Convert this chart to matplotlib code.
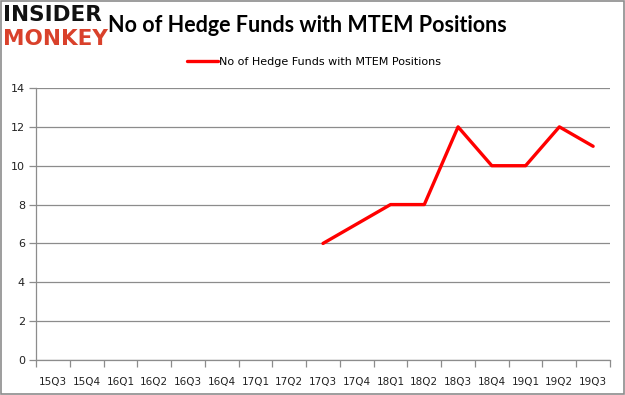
import matplotlib.pyplot as plt
from matplotlib.patches import Rectangle
import numpy as np

quarters = ["15Q3", "15Q4", "16Q1", "16Q2", "16Q3", "16Q4", "17Q1", "17Q2", "17Q3",
            "17Q4", "18Q1", "18Q2", "18Q3", "18Q4", "19Q1", "19Q2", "19Q3"]
# only the last nine quarters have data
fund_counts = [None] * 8 + [6, 7, 8, 8, 12, 10, 10, 12, 11]
y_ticks = [0, 2, 4, 6, 8, 10, 12, 14]
series_name = "No of Hedge Funds with MTEM Positions"

fig = plt.figure(figsize=(6.25, 3.95), dpi=100)
ax = fig.add_axes([36 / 625, 35 / 395, 574 / 625, 272 / 395])

x = np.arange(len(quarters))
y = np.array([np.nan if v is None else v for v in fund_counts], dtype=float)
line, = ax.plot(x, y, color="#ff0000", lw=2.4, solid_capstyle="round")

ax.set_xlim(-0.5, len(quarters) - 0.5)
ax.set_ylim(0, 14)
ax.set_yticks(y_ticks)
ax.set_yticklabels([str(t) for t in y_ticks])
ax.grid(axis="y", color="#8c8c8c", lw=0.9)
ax.set_axisbelow(True)

# category labels centred, tick marks on the boundaries
ax.set_xticks(x)
ax.set_xticklabels(quarters)
ax.set_xticks(np.arange(-0.5, len(quarters)), minor=True)
ax.tick_params(axis="x", which="major", length=0, pad=12, labelsize=7.5,
               labelcolor="#222222")
ax.tick_params(axis="x", which="minor", length=5, color="#8c8c8c", width=0.9)
ax.tick_params(axis="y", length=5, color="#8c8c8c", width=0.9, labelsize=8,
               labelcolor="#222222", pad=3)
for side in ("top", "right"):
    ax.spines[side].set_visible(False)
for side in ("left", "bottom"):
    ax.spines[side].set_color("#8c8c8c")
    ax.spines[side].set_linewidth(0.9)

fig.text(108 / 625, 1 - 25 / 395, "No of Hedge Funds with MTEM Positions",
         fontsize=15.5, fontweight="bold", family="Lato", va="center", ha="left")
fig.legend([line], [series_name], loc="center", bbox_to_anchor=(314 / 625, 1 - 62 / 395),
           frameon=False, handlelength=2.8, handletextpad=0.1,
           prop={"family": "DejaVu Sans", "size": 8})

# logo
fig.text(3 / 625, 1 - 15 / 395, "INSIDER", fontsize=15.5, fontweight="heavy",
         family="DejaVu Sans", color="#111111", va="center", ha="left")
fig.text(3 / 625, 1 - 39 / 395, "MONKEY", fontsize=15.5, fontweight="heavy",
         family="DejaVu Sans", color="#d9412b", va="center", ha="left")

fig.patches.append(Rectangle((0.001, 0.002), 0.997, 0.996, transform=fig.transFigure,
                             fill=False, edgecolor="#8c8c8c", lw=1.2))

fig.savefig("out.png", dpi=100)
